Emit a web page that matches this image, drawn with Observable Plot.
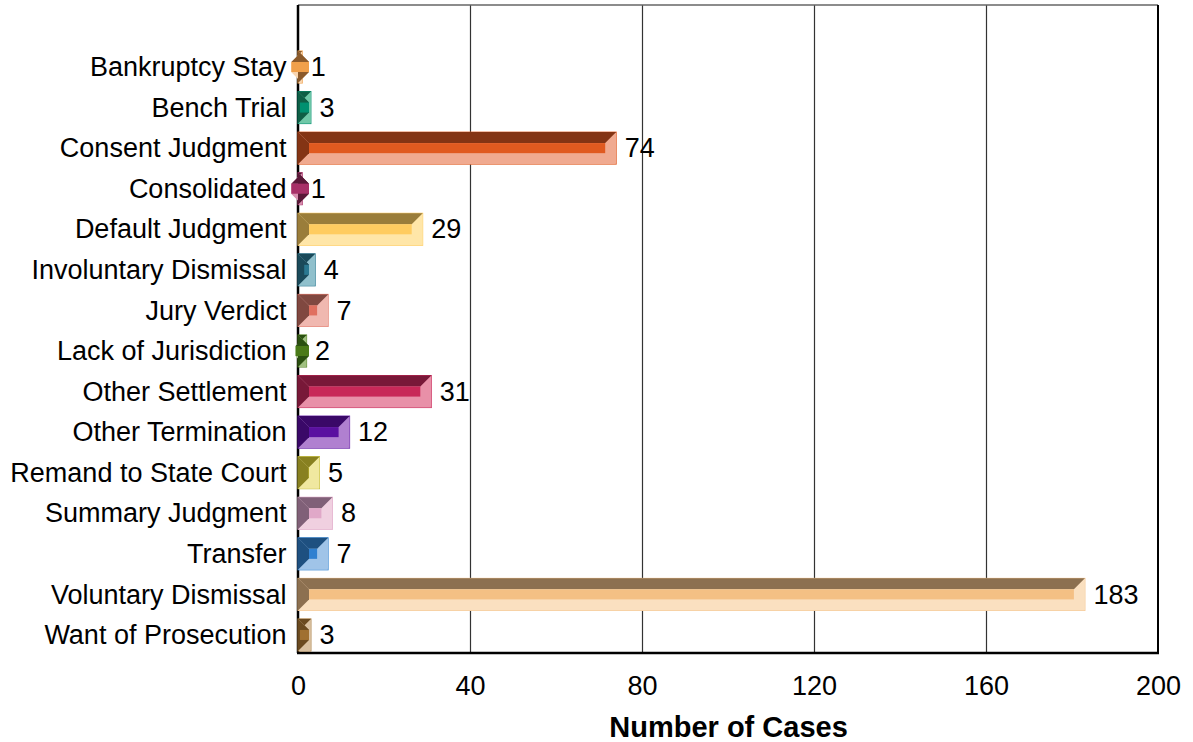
<!DOCTYPE html>
<html><head><meta charset="utf-8">
<script src="https://cdn.jsdelivr.net/npm/d3@7"></script>
<script src="https://cdn.jsdelivr.net/npm/@observablehq/plot@0.6"></script>
<style>body{margin:0;background:#fff} svg{display:block}</style>
</head><body><div id="chart"></div>
<script>
const categories = ["Bankruptcy Stay","Bench Trial","Consent Judgment","Consolidated","Default Judgment","Involuntary Dismissal","Jury Verdict","Lack of Jurisdiction","Other Settlement","Other Termination","Remand to State Court","Summary Judgment","Transfer","Voluntary Dismissal","Want of Prosecution"];
const values = [1,3,74,1,29,4,7,2,31,12,5,8,7,183,3];
const xTicks = [0,40,80,120,160,200];
const axisTitle = "Number of Cases";

// bar shading palette (style, kept apart from data)
const darkColors  = ["#8b5a2b","#0f5e45","#843414","#5a1838","#9a7d3a","#1a4a5a","#804840","#2a5010","#781838","#3a0868","#888020","#806078","#1e5080","#8c7050","#6a4a20"];
const midColors   = ["#f0a04b","#009070","#e05a20","#a83068","#ffcc60","#2a7890","#e07060","#4a7a18","#c82858","#5a10a0","#c0b830","#e0a8c8","#3080d0","#f4c084","#a07030"];
const lightColors = ["#f8d5b0","#70c8a8","#f0aa90","#d890b0","#ffe6a8","#90c0cc","#f0b8b0","#a0c080","#e890a8","#b080d0","#f0e8a0","#f0d0e0","#a0c4e8","#fae0c0","#d8c0a0"];

const data = categories.map((c, i) => ({category: c, value: values[i], i}));
const BEVEL = 11;

function bevels(index, scales) {
  const x = scales.x, y = scales.y;
  const bw = typeof y.bandwidth === "function" ? y.bandwidth() : (y.bandwidth ?? scales.scales.y.bandwidth);
  const g = d3.create("svg:g");
  const b = BEVEL;
  for (const d of data) {
    const x0 = x(0), x1 = x(d.value), y0 = y(d.category), y1 = y0 + bw;
    const poly = (pts, fill) => g.append("polygon")
      .attr("points", pts.map(p => p.join(",")).join(" "))
      .attr("fill", fill);
    const L = lightColors[d.i], D = darkColors[d.i], M = midColors[d.i];
    poly([[x1,y0],[x1,y1],[x1-b,y1-b],[x1-b,y0+b]], L);
    poly([[x0,y1],[x1,y1],[x1-b,y1-b],[x0+b,y1-b]], L);
    poly([[x0,y0],[x1,y0],[x1-b,y0+b],[x0+b,y0+b]], D);
    poly([[x0,y0],[x0+b,y0+b],[x0+b,y1-b],[x0,y1]], D);
    g.append("rect")
      .attr("x", Math.min(x0+b, x1-b)).attr("width", Math.abs((x1-b)-(x0+b)))
      .attr("y", y0+b).attr("height", Math.max(0, bw-2*b))
      .attr("fill", M);
  }
  return g.node();
}

function frameLines(index, scales, values, dim) {
  const g = d3.create("svg:g");
  const l = dim.marginLeft, r = dim.width - dim.marginRight, t = dim.marginTop, bt = dim.height - dim.marginBottom;
  g.append("line").attr("x1", l).attr("x2", r).attr("y1", t).attr("y2", t).attr("stroke", "#666").attr("stroke-width", 1.5);
  g.append("line").attr("x1", l).attr("x2", l).attr("y1", t).attr("y2", bt).attr("stroke", "#000").attr("stroke-width", 2.5);
  g.append("line").attr("x1", r).attr("x2", r).attr("y1", t).attr("y2", bt).attr("stroke", "#000").attr("stroke-width", 2);
  g.append("line").attr("x1", l-1).attr("x2", r+1).attr("y1", bt).attr("y2", bt).attr("stroke", "#000").attr("stroke-width", 2.5);
  return g.node();
}

const chart = Plot.plot({
  width: 1193,
  height: 742,
  marginLeft: 298,
  marginRight: 35,
  marginTop: 5,
  marginBottom: 89,
  style: {fontFamily: "'Liberation Sans', Arial, sans-serif", fontSize: "27px", color: "#000", background: "#fff"},
  x: {domain: [0, 200], ticks: xTicks, tickSize: 0, tickPadding: 22, label: null},
  y: {type: "band", domain: categories, range: [42.45, 659.5], padding: 0.21, round: false, tickSize: 0, tickPadding: 12, label: null},
  marks: [
    Plot.ruleX(xTicks.slice(1, -1), {stroke: "#333", strokeWidth: 1.2}),
    frameLines,
    Plot.barX(data, {x: "value", y: "category", fill: d => lightColors[d.i], stroke: d => midColors[d.i], strokeWidth: 1}),
    bevels,
    Plot.text(data, {x: "value", y: "category", text: d => String(d.value), textAnchor: "start", dx: 8, fontSize: 27, fill: "#000"}),
    Plot.text([axisTitle], {frameAnchor: "bottom", lineAnchor: "middle", dy: 74, fontSize: 29, fontWeight: "bold", fill: "#000"})
  ]
});
document.getElementById("chart").appendChild(chart);
</script>
</body></html>
